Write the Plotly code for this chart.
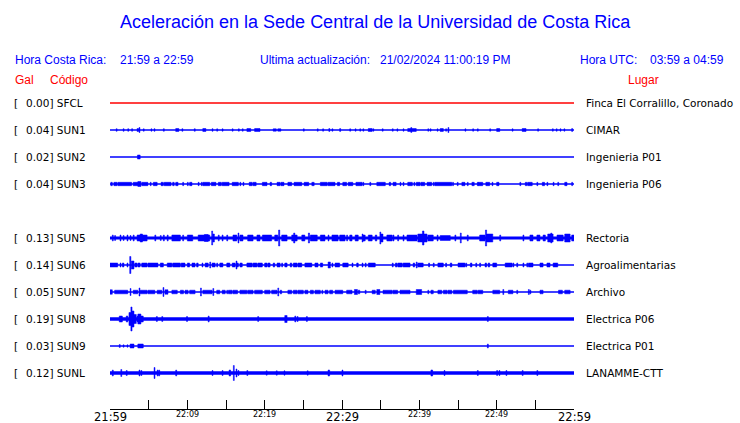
import plotly.graph_objects as go

TITLE = "Aceleración en la Sede Central de la Universidad de Costa Rica"
HEADER_LOCAL = ("Hora Costa Rica:", "21:59 a 22:59")
HEADER_UPDATE = ("Ultima actualización:", "21/02/2024 11:00:19 PM")
HEADER_UTC = ("Hora UTC:", "03:59 a 04:59")

STATIONS = ["SFCL", "SUN1", "SUN2", "SUN3", "SUN4", "SUN5", "SUN6", "SUN7", "SUN8", "SUN9", "SUNL"]
PEAK_GAL = [0.00, 0.04, 0.02, 0.04, None, 0.13, 0.14, 0.05, 0.19, 0.03, 0.12]
PLACES = ["Finca El Corralillo, Coronado", "CIMAR", "Ingenieria P01", "Ingenieria P06", None,
          "Rectoria", "Agroalimentarias", "Archivo", "Electrica P06", "Electrica P01", "LANAMME-CTT"]
# background (noise) half amplitude of each trace, display units
BASE_AMP = [0.5, 0.5, 0.5, 0.5, None, 1.6, 0.5, 0.5, 1.7, 0.5, 1.7]

TICK_MINUTES = [0, 5, 10, 15, 20, 25, 30, 35, 40, 45, 50, 55, 60]
MAJOR_LABELS = {0: "21:59", 30: "22:29", 60: "22:59"}
MINOR_LABELS = {10: "22:09", 20: "22:19", 40: "22:39", 50: "22:49"}

# envelope events per trace: (start minute, duration minute, half amplitude)
SFCL_EVENTS = []
SUN1_EVENTS = [(0.8, 0, 1.3), (1.7, 0, 1.3), (2.3, 0, 1.3), (2.8, 0, 1.3), (3.5, 0.2, 1.5), (3.75, 0, 2.5),
               (4.3, 0, 1.2), (5.3, 0, 1.2), (5.7, 0, 1.3), (6.9, 0, 1.3), (8.5, 0.4, 1.5), (9.3, 0, 1.3),
               (10.9, 0, 1.3), (12.0, 0.4, 1.5), (13.2, 0, 1.3), (13.8, 0, 1.2), (14.5, 0, 1.2), (15.8, 0, 1.2),
               (16.6, 0, 1.2), (17.1, 0, 1.2), (17.7, 0.5, 1.5), (18.7, 0.7, 1.5), (21.1, 0.4, 1.2), (21.7, 0.4, 1.2),
               (25.0, 0, 1.2), (26.8, 0, 1.2), (27.5, 0, 1.2), (28.3, 0, 1.5), (28.7, 0, 1.2), (29.7, 0, 1.5),
               (31.0, 0, 1.2), (31.7, 0, 1.2), (32.3, 0, 1.2), (32.7, 0, 1.2), (33.4, 0.5, 1.5), (34.0, 0, 1.2),
               (35.2, 0, 1.2), (36.5, 0, 1.2), (37.1, 0, 1.2), (37.9, 0, 1.2), (38.5, 1.1, 1.5), (38.9, 0, 2.5),
               (41.1, 0, 1.2), (41.4, 0, 1.2), (42.3, 0, 1.2), (42.7, 0.4, 1.5), (43.4, 0, 1.2), (43.7, 0, 2.5),
               (45.9, 0, 1.2), (46.9, 0, 1.2), (47.5, 0, 1.2), (49.1, 0, 1.2), (50.0, 0.4, 1.5), (52.0, 0, 1.2),
               (53.3, 0.5, 1.5), (55.3, 0, 1.2), (57.2, 0, 1.2), (57.7, 0, 1.2), (58.2, 0, 1.2), (58.7, 0, 1.2),
               (59.7, 0, 1.5)]
SUN2_EVENTS = [(3.55, 0.35, 2.0)]
SUN3_EVENTS = [(0.1, 0.2, 1.7), (0.5, 0.4, 1.7), (1.0, 1.8, 1.7), (3.0, 0.6, 1.7), (3.6, 0.4, 2.5), (4.1, 0.8, 1.7),
               (5.2, 0, 1.7), (5.6, 0.5, 1.7), (6.6, 0.3, 1.7), (7.0, 0.9, 1.7), (8.1, 0.2, 1.7), (8.5, 0.3, 1.7),
               (9.4, 0, 1.7), (10.0, 0, 1.7), (10.3, 0.3, 1.7), (11.4, 0, 1.7), (11.8, 0, 1.7), (12.0, 0.9, 1.7),
               (13.1, 0.6, 1.7), (14.0, 0.4, 1.7), (14.5, 0.9, 1.7), (15.8, 0.8, 1.7), (16.8, 0, 1.7), (17.2, 0, 1.7),
               (18.0, 0.4, 1.7), (18.5, 0.4, 1.7), (19.7, 0.6, 1.7), (20.7, 0.2, 1.7), (21.6, 0.4, 1.7),
               (22.1, 0.4, 1.7), (23.0, 0.5, 1.7), (23.8, 1.0, 1.7), (25.1, 0.6, 1.7), (26.1, 0.3, 1.7),
               (27.2, 0.9, 1.7), (28.2, 0.9, 1.7), (29.4, 0.3, 1.7), (30.1, 0.5, 1.7), (30.8, 0.6, 1.7),
               (31.8, 0.8, 1.7), (32.7, 0, 1.7), (33.6, 0, 1.7), (34.5, 1.1, 1.7), (36.1, 0.2, 1.7), (36.6, 0.4, 1.7),
               (37.5, 0, 1.7), (37.9, 0, 1.7), (38.5, 0.6, 1.7), (39.3, 0, 1.7), (39.6, 0.5, 1.7), (40.2, 0.5, 1.7),
               (41.0, 0.6, 1.7), (41.8, 0, 1.7), (42.0, 2.2, 1.7), (44.3, 0, 1.7), (44.9, 0, 1.7), (45.5, 0.4, 1.7),
               (46.2, 0, 1.7), (46.8, 0.3, 1.7), (47.5, 0, 1.7), (47.6, 0.6, 1.7), (48.6, 0.5, 1.7), (49.4, 0, 1.7),
               (50.0, 0.3, 1.7), (53.0, 0, 1.7), (53.7, 0.2, 1.7), (54.0, 0.6, 1.7), (55.2, 0, 1.7), (55.9, 0.3, 1.7),
               (56.5, 0, 1.7), (57.3, 0, 1.7), (57.9, 0, 1.7), (58.8, 0.3, 1.7), (59.7, 0, 1.7)]
SUN4_EVENTS = None
SUN5_EVENTS = [(0.3, 0, 3), (0.6, 0, 2.5), (1.3, 0, 3), (1.7, 0, 2.5), (2.2, 0, 3), (2.6, 0, 2.5), (3.0, 0, 3),
               (3.5, 1.3, 3), (3.9, 0.3, 4), (5.8, 0, 3), (6.5, 0, 2.5), (6.9, 0, 3), (7.4, 0.1, 3), (8.0, 1.1, 3),
               (9.4, 0, 3), (10.0, 0.7, 3), (11.4, 1.5, 3), (12.2, 0.5, 3.5), (13.15, 0.1, 7), (13.3, 0.2, 4),
               (14.0, 0, 3), (14.5, 0, 3), (15.1, 0, 3), (15.9, 0.5, 3), (16.55, 0.1, 5), (16.8, 0.4, 3),
               (17.8, 0.7, 3), (19.0, 0.4, 3), (19.7, 1.2, 3), (21.3, 0.4, 3), (21.8, 0.15, 8), (22.2, 0.7, 3),
               (23.5, 0.7, 3), (23.75, 0.15, 5), (24.8, 0.4, 3), (25.65, 0.15, 5), (25.9, 0.9, 3), (27.2, 0.6, 3),
               (28.2, 0, 3), (28.7, 0.8, 3), (29.7, 0.7, 3), (30.6, 0, 3), (31.0, 0.3, 3), (31.7, 0.4, 3),
               (32.6, 0, 4), (32.7, 0.3, 3), (33.4, 0.5, 3), (34.3, 0.2, 3), (34.9, 0.1, 6), (35.0, 0.3, 4),
               (35.8, 0.7, 3), (36.6, 0, 3), (37.2, 0, 3), (37.9, 0, 3), (38.4, 1.3, 3), (39.8, 1.2, 4),
               (40.4, 0.2, 7), (41.1, 0.7, 3), (42.3, 0, 3), (42.7, 1.3, 2.5), (44.6, 0, 3), (45.3, 0.1, 5),
               (46.2, 0, 3), (47.8, 0.7, 3), (48.55, 0.15, 8), (48.7, 0.8, 4), (50.4, 0, 3), (53.4, 0, 3),
               (54.3, 0.4, 3), (55.2, 0.4, 3), (56.0, 0.3, 3), (56.6, 0.7, 4), (57.0, 0.1, 5), (57.8, 0.8, 3),
               (58.8, 0.7, 4), (59.7, 0.3, 3)]
SUN6_EVENTS = [(0, 1.0, 2), (1.3, 0, 2), (1.6, 0.2, 2), (2.2, 0.1, 2), (2.55, 0.15, 8.5), (2.75, 0.35, 4),
               (3.2, 0.3, 2), (3.6, 0.3, 2), (4.1, 0.7, 2), (4.9, 1.3, 2), (6.5, 0.4, 2), (7.4, 0.6, 2), (8.1, 1.0, 2),
               (9.2, 0.5, 2), (10.0, 0.3, 2), (10.6, 0.4, 2), (11.2, 0.2, 2), (11.9, 0.1, 2), (12.3, 0.4, 2),
               (12.9, 0, 3), (13.2, 0.4, 2), (13.8, 0, 2), (14.2, 0.4, 2), (15.1, 0.4, 2), (15.8, 0.4, 2),
               (16.3, 0, 4), (16.4, 0.2, 2), (16.8, 0.3, 2), (17.7, 0.7, 2), (18.5, 0.5, 2), (19.1, 0.6, 2),
               (20.0, 0.3, 2), (20.4, 0.3, 2), (21.1, 0.2, 2), (21.6, 0.4, 2), (22.2, 0, 2), (22.6, 0.3, 2),
               (23.3, 0.2, 2), (23.7, 0.5, 2), (24.3, 0.5, 2), (25.2, 0.9, 2), (26.5, 0.4, 2), (27.2, 0.3, 2),
               (28.2, 0.3, 3), (28.7, 0.1, 2), (29.1, 0.6, 2), (30.1, 0.7, 2), (31.3, 0.1, 2), (31.9, 0.2, 2),
               (32.6, 0, 2), (33.0, 0, 2), (33.4, 0.9, 2), (36.5, 0.1, 2), (36.9, 0.2, 2), (37.2, 0.6, 2),
               (37.9, 0.9, 2), (39.2, 0.2, 2), (39.6, 0, 3), (39.8, 0.7, 2), (41.2, 0, 2), (41.8, 0, 2),
               (42.4, 0.7, 2), (43.4, 0, 2), (44.0, 0.2, 2), (45.0, 0.9, 2), (46.0, 0, 2), (46.6, 0.2, 2),
               (47.3, 0, 2), (47.8, 0, 2), (48.5, 0.2, 2), (48.9, 0.2, 2), (49.5, 0.5, 2), (51.1, 0.9, 2),
               (52.1, 0, 2), (52.6, 0, 2), (53.4, 0, 2), (53.9, 0, 2), (54.1, 0.6, 2), (55.6, 0.4, 2),
               (56.5, 0.4, 2), (57.3, 0.6, 2)]
SUN7_EVENTS = [(0, 0.3, 2.2), (0.6, 1.7, 1.8), (2.6, 0, 3.5), (3.0, 0.6, 1.8), (3.75, 0.1, 4), (3.9, 0.9, 1.8),
               (4.9, 0.9, 1.8), (6.1, 0.6, 1.8), (6.85, 0.1, 4.5), (7.1, 0.4, 2.2), (8.0, 0.7, 1.8), (9.1, 0.4, 1.8),
               (9.7, 0.4, 1.8), (10.3, 0.7, 1.8), (11.7, 0.1, 4), (12.0, 1.2, 1.8), (13.3, 0, 3.5), (13.8, 0.4, 1.8),
               (14.5, 0.4, 1.8), (15.1, 0, 1.8), (15.3, 0.5, 1.8), (15.9, 0.6, 1.8), (16.8, 0.9, 1.8),
               (17.8, 0.7, 1.8), (18.7, 1.0, 1.8), (20.0, 0.7, 1.8), (20.9, 0.7, 1.8), (21.7, 0.1, 4),
               (22.0, 0.2, 1.8), (23.0, 0.5, 1.8), (23.7, 0.5, 1.8), (24.3, 0.7, 1.8), (25.2, 0.4, 1.8),
               (25.9, 0.4, 1.8), (26.5, 0.7, 1.8), (27.4, 0, 1.8), (27.8, 0.4, 1.8), (28.4, 0.4, 1.8),
               (29.1, 1.0, 1.8), (30.6, 0.7, 1.8), (31.6, 0.4, 2.5), (32.1, 0.2, 1.8), (33.0, 0, 1.8),
               (33.9, 0.4, 1.8), (34.5, 0.4, 2.5), (35.3, 1.2, 1.8), (36.6, 0.6, 1.8), (37.5, 1.3, 1.8),
               (39.6, 0.7, 2.5), (41.1, 0, 1.8), (41.5, 0.3, 1.8), (42.4, 0.5, 1.8), (43.1, 0.5, 1.8),
               (43.7, 0.5, 1.8), (44.4, 1.8, 1.8), (46.9, 0.6, 1.8), (47.6, 0.6, 1.8), (49.5, 0.9, 1.8),
               (50.8, 0, 2.5), (51.5, 0.6, 1.8), (52.6, 0.1, 1.8), (54.1, 0, 2.5), (54.3, 0, 1.8), (55.6, 0.4, 1.8),
               (58.0, 0.5, 1.8), (58.8, 0.7, 1.8)]
SUN8_EVENTS = [(1.2, 0.4, 3), (2.1, 0.2, 3), (2.45, 0.25, 6.5), (2.7, 0.15, 12), (2.85, 0.25, 8), (3.1, 0.3, 4.5),
               (3.5, 0.1, 3), (3.6, 0.4, 5), (4.0, 0.3, 3), (6.0, 0, 2.5), (6.7, 0, 2.5), (9.9, 0, 2.5),
               (12.7, 0, 3), (19.1, 0, 2.5), (22.6, 0.3, 3.5), (23.9, 0, 3), (24.2, 0, 2.5), (25.4, 0, 2.5),
               (48.8, 0, 2.5)]
SUN9_EVENTS = [(1.2, 0, 1.5), (1.7, 0, 1.2), (2.2, 0, 1.2), (2.6, 0.5, 2), (3.6, 0.7, 2), (48.8, 0, 2)]
SUNL_EVENTS = [(0.3, 0, 3), (1.4, 0, 3.5), (2.1, 0, 2.5), (3.75, 0, 3), (4.0, 0, 2.5), (5.7, 0, 5.5), (6.1, 0, 3),
               (6.3, 0, 3), (8.5, 0, 3), (13.2, 0, 2.5), (14.5, 0, 2.5), (15.4, 0.2, 3), (15.95, 0.1, 7.5),
               (16.3, 0, 4), (16.55, 0, 2.5), (17.7, 0, 2.5), (20.2, 0, 2.2), (21.5, 0, 2.2), (22.5, 0, 2.2),
               (25.5, 0, 2.2), (28.2, 0.2, 3), (30.0, 0, 3), (41.5, 0, 3), (41.6, 0, 3), (43.2, 0, 2.5),
               (47.5, 0, 2.5), (50.0, 0, 2.5), (50.3, 0, 2.5), (51.2, 0, 2.5), (53.3, 0, 2.5), (55.2, 0, 2.5)]

EVENTS = [SFCL_EVENTS, SUN1_EVENTS, SUN2_EVENTS, SUN3_EVENTS, SUN4_EVENTS, SUN5_EVENTS, SUN6_EVENTS,
          SUN7_EVENTS, SUN8_EVENTS, SUN9_EVENTS, SUNL_EVENTS]

# ---------------- styling / geometry ----------------
W, H = 740, 423
PL, PR, PT, PB = 110, 574, 90, 409   # plot area in pixels
ROW0, ROW_STEP = 103, 27
BLUE = "#0000FF"
RED = "#FF0000"
MIN_W = 0.12
T_END = 60

y_top = (PT - ROW0) / ROW_STEP
y_bot = (PB - ROW0) / ROW_STEP


def px_x(px):
    return (px - PL) / (PR - PL)


def px_y(py):
    return (PB - py) / (PB - PT)


fig = go.Figure()

for i, st in enumerate(STATIONS):
    if EVENTS[i] is None:
        continue
    color = RED if st == "SFCL" else BLUE
    fig.add_trace(go.Scatter(x=[0, T_END], y=[i, i], mode="lines",
                             line=dict(color=color, width=max(2 * BASE_AMP[i], 1.3)),
                             hoverinfo="skip", showlegend=False))
    xs, ys = [], []
    for t, d, a in EVENTS[i]:
        w = max(d, MIN_W)
        h = a / ROW_STEP
        xs += [t, t + w, t + w, t, t, None]
        ys += [i - h, i - h, i + h, i + h, i - h, None]
    if xs:
        fig.add_trace(go.Scatter(x=xs, y=ys, mode="lines", fill="toself", fillcolor=color,
                                 line=dict(color=color, width=0.5),
                                 hoverinfo="skip", showlegend=False))

ann = []


def text(px, py, s, size, color, family="Liberation Sans, Arial, sans-serif", anchor="left"):
    ann.append(dict(x=px_x(px), y=px_y(py), xref="paper", yref="paper", text=s, showarrow=False,
                    xanchor=anchor, yanchor="middle", borderpad=0,
                    font=dict(size=size, color=color, family=family)))


text(375, 22, TITLE, 18, BLUE, anchor="center")
text(14, 60, HEADER_LOCAL[0], 12, BLUE)
text(119, 60, HEADER_LOCAL[1], 12, BLUE)
text(259, 60, HEADER_UPDATE[0], 12, BLUE)
text(379, 60, HEADER_UPDATE[1], 12, BLUE)
text(579, 60, HEADER_UTC[0], 12, BLUE)
text(649, 60, HEADER_UTC[1], 12, BLUE)
text(14, 80, "Gal", 12, RED)
text(49, 80, "Código", 12, RED)
text(627, 80, "Lugar", 12, RED)

DV = "DejaVu Sans, sans-serif"
for i, st in enumerate(STATIONS):
    if PEAK_GAL[i] is None:
        continue
    py = ROW0 + ROW_STEP * i
    text(13, py, "[", 10.5, "black", DV)
    text(25, py, f"{PEAK_GAL[i]:.2f}] {st}", 10.5, "black", DV)
    text(585, py, PLACES[i], 10.5, "black", DV)

for m, lab in MAJOR_LABELS.items():
    ann.append(dict(x=m, y=0, xref="x", yref="paper", text=lab, showarrow=False, xanchor="center",
                    yanchor="top", yshift=0, borderpad=0,
                    font=dict(size=11.5, color="black", family=DV)))
for m, lab in MINOR_LABELS.items():
    ann.append(dict(x=m, y=0, xref="x", yref="paper", text=lab, showarrow=False, xanchor="center",
                    yanchor="top", yshift=0, borderpad=0,
                    font=dict(size=8, color="black", family=DV)))

fig.update_layout(
    width=W, height=H,
    margin=dict(l=PL, r=W - PR, t=PT, b=H - PB),
    paper_bgcolor="white", plot_bgcolor="white",
    xaxis=dict(range=[0, T_END], tickvals=TICK_MINUTES, ticks="inside", ticklen=9, tickcolor="black",
               tickwidth=1, showticklabels=False, showline=True, linecolor="black", linewidth=1,
               showgrid=False, zeroline=False, fixedrange=True, automargin=False),
    yaxis=dict(range=[y_bot, y_top], visible=False, fixedrange=True, automargin=False),
    annotations=ann,
    showlegend=False,
)

fig.write_html("out.html", config={"displayModeBar": False},
               post_script="document.body.style.margin='0';document.body.style.overflow='hidden';")
